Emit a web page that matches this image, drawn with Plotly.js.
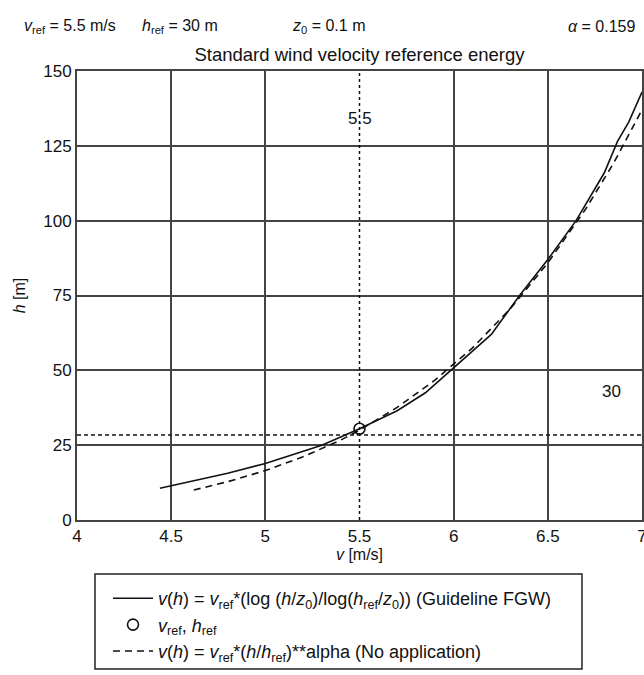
<!DOCTYPE html>
<html>
<head>
<meta charset="utf-8">
<script src="https://cdn.plot.ly/plotly-3.0.1.min.js"></script>
<style>html,body{margin:0;padding:0;background:#fff;}#chart{width:644px;height:675px;}</style>
</head>
<body>
<div id="chart"></div>
<script>
// Log-law profile (Guideline FGW)
const logV = [4.44, 4.6, 4.8, 5.0, 5.2, 5.3, 5.5, 5.7, 5.85, 6.0, 6.2, 6.35, 6.5, 6.65, 6.8, 6.87, 6.93, 7.0];
const logH = [10.6, 12.8, 15.6, 18.9, 23.0, 25.0, 30.5, 36.5, 42.5, 51.0, 62.0, 75.0, 87.0, 100.0, 116.0, 126.5, 133.0, 143.0];
// Power-law profile (No application)
const powV = [4.62, 4.8, 5.0, 5.2, 5.4, 5.5, 5.7, 5.9, 6.1, 6.3, 6.5, 6.7, 6.85, 7.0];
const powH = [10.0, 12.8, 16.5, 21.1, 26.7, 30.0, 37.6, 46.7, 57.5, 70.5, 85.9, 103.8, 119.3, 137.0];
// Reference point
const refV = [5.5];
const refH = [30.5];
// Dotted guide lines
const guideVx = [5.5, 5.5];
const guideVy = [0, 150];
const guideHx = [4, 7];
const guideHy = [28.4, 28.4];
// Labels in the plot
const labelText = ["5.5", "30"];
const labelV = [5.5, 6.84];
const labelH = [134.2, 42.9];
// Axis ticks and grid positions
const xTicks = [4, 4.5, 5, 5.5, 6, 6.5, 7];
const xTickText = ["4", "4.5", "5", "5.5", "6", "6.5", "7"];
const xGrid = [4.5, 5, 6, 6.5];
const yTicks = [0, 25, 50, 75, 100, 125, 150];
const yTickText = ["0", "25", "50", "75", "100", "125", "150"];

const FONT = "Liberation Sans, Arial, Helvetica, sans-serif";
const INK = "#111";
const GRID = "#444";

const traces = [
  {x: guideVx, y: guideVy, mode: "lines", line: {color: INK, width: 1.5, dash: "3px,3px"}, showlegend: false, hoverinfo: "skip"},
  {x: guideHx, y: guideHy, mode: "lines", line: {color: INK, width: 1.5, dash: "4px,3px"}, showlegend: false, hoverinfo: "skip"},
  {x: logV, y: logH, mode: "lines", line: {color: INK, width: 1.6},
   name: "<i>v</i>(<i>h</i>) = <i>v</i><sub>ref</sub>*(log (<i>h</i>/<i>z</i><sub>0</sub>)/log(<i>h</i><sub>ref</sub>/<i>z</i><sub>0</sub>)) (Guideline FGW)"},
  {x: refV, y: refH, mode: "markers", marker: {symbol: "circle-open", size: 11, color: INK, line: {width: 1.6, color: INK}},
   name: "<i>v</i><sub>ref</sub>, <i>h</i><sub>ref</sub>"},
  {x: powV, y: powH, mode: "lines", line: {color: INK, width: 1.6, dash: "7px,5px"},
   name: "<i>v</i>(<i>h</i>) = <i>v</i><sub>ref</sub>*(<i>h</i>/<i>h</i><sub>ref</sub>)**alpha (No application)"}
];

const annotations = labelText.map((t, i) => ({
  x: labelV[i], y: labelH[i], xref: "x", yref: "y", text: t, showarrow: false,
  font: {family: FONT, size: 17, color: INK}, xanchor: "center", yanchor: "middle"
}));

const header = [
  {text: "<i>v</i><sub>ref</sub> = 5.5 m/s", px: 22},
  {text: "<i>h</i><sub>ref</sub> = 30 m", px: 140},
  {text: "<i>z</i><sub>0</sub> = 0.1 m", px: 290},
  {text: "<i>α</i> = 0.159", px: 566}
];
header.forEach(h => annotations.push({
  x: (h.px - 77) / 565, y: (520 - 26) / 449, xref: "paper", yref: "paper", text: h.text,
  showarrow: false, xanchor: "left", yanchor: "middle", font: {family: FONT, size: 16, color: INK}
}));

const layout = {
  width: 644, height: 675,
  margin: {l: 77, r: 2, t: 71, b: 155},
  paper_bgcolor: "#fff", plot_bgcolor: "#fff",
  font: {family: FONT, size: 16, color: INK},
  title: {text: "Standard wind velocity reference energy", font: {family: FONT, size: 18.5, color: INK},
          x: 0.5, xref: "paper", xanchor: "center", y: 1 - 55 / 675, yanchor: "middle"},
  xaxis: {range: [4, 7], tickvals: xTicks, ticktext: xTickText, showgrid: false,
          minor: {tickvals: xGrid, showgrid: true, gridcolor: GRID, gridwidth: 2, ticks: ""},
          showline: true, linecolor: GRID, linewidth: 2, mirror: true, zeroline: false, ticks: "",
          ticklabeloverflow: "allow",
          tickfont: {family: FONT, size: 17, color: INK},
          title: {text: "<i>v</i> [m/s]", font: {family: FONT, size: 16, color: INK}, standoff: 2}},
  yaxis: {range: [0, 150], tickvals: yTicks, ticktext: yTickText, showgrid: true, gridcolor: GRID, gridwidth: 2,
          showline: true, linecolor: GRID, linewidth: 2, mirror: true, zeroline: false, ticks: "",
          tickfont: {family: FONT, size: 17, color: INK},
          title: {text: "<i>h</i> [m]", font: {family: FONT, size: 16, color: INK}, standoff: 14}},
  showlegend: true,
  legend: {x: (108 - 77) / 565, y: (520 - 580) / 449, xanchor: "left", yanchor: "top",
           borderwidth: 0, bgcolor: "rgba(0,0,0,0)", itemwidth: 40,
           font: {family: FONT, size: 18, color: INK}, tracegroupgap: 0},
  shapes: [{type: "rect", xref: "paper", yref: "paper",
            x0: (95 - 77) / 565, x1: (582 - 77) / 565, y0: (520 - 574) / 449, y1: (520 - 669) / 449,
            line: {color: "#222", width: 1.5}, fillcolor: "rgba(0,0,0,0)"}],
  annotations: annotations
};

Plotly.newPlot("chart", traces, layout, {staticPlot: true, displayModeBar: false});
</script>
</body>
</html>
